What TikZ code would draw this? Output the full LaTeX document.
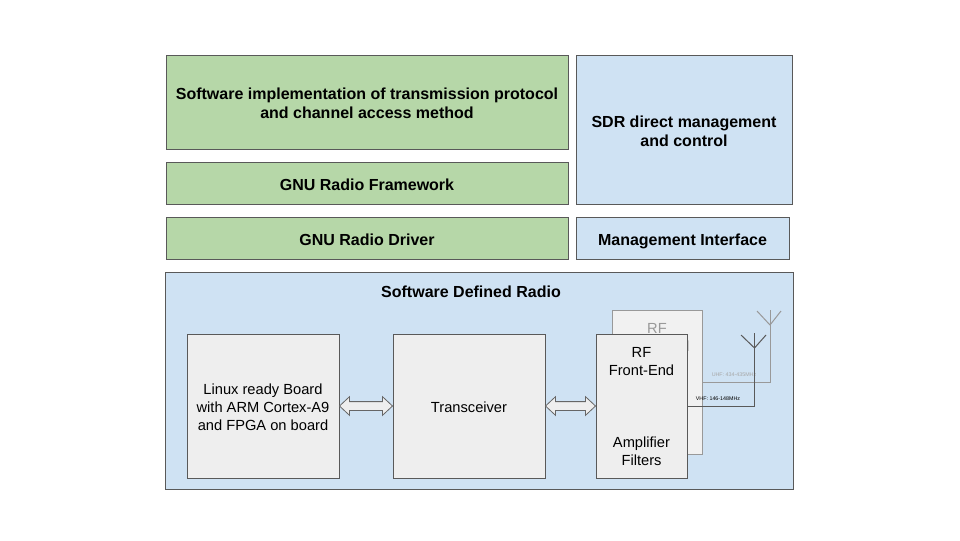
\documentclass[tikz,border=0pt]{standalone}
\usepackage{fontspec}
\setmainfont{Liberation Sans}
\usetikzlibrary{calc}
\definecolor{swgreen}{HTML}{B6D7A8}
\definecolor{mgmtblue}{HTML}{CFE2F3}
\definecolor{hwgray}{HTML}{EEEEEE}
\definecolor{edgegray}{HTML}{595959}
\newcommand{\swgap}{\rule{0pt}{13.5pt}}
\newcommand{\hwgap}{\rule{0pt}{12.5pt}}

\begin{document}
\begin{tikzpicture}[x=.75pt, y=-.75pt, line width=.75pt]
    \tikzstyle{layer}=[rectangle, draw=edgegray, align=center, inner sep=0pt, execute at begin node={\rule{0pt}{12.5pt}}, execute at end node={\rule[-3pt]{0pt}{3pt}}, font=\fontsize{12pt}{14.25pt}\selectfont\bfseries]
    \tikzstyle{sw}=[layer, fill=swgreen]
    \tikzstyle{mgmt}=[layer, fill=mgmtblue]
    \tikzstyle{hw}=[rectangle, draw=edgegray, fill=hwgray, align=center, inner sep=0pt, execute at begin node={\rule{0pt}{11.9pt}}, execute at end node={\rule[-2.5pt]{0pt}{2.5pt}}, font=\fontsize{11pt}{13.5pt}\selectfont]
    \tikzstyle{hwback}=[rectangle, draw=black!40, fill=hwgray!80!white, inner sep=0pt]
    \tikzstyle{txt}=[inner sep=0pt, align=center, font=\fontsize{11pt}{13.5pt}\selectfont]
    \tikzstyle{freq}=[inner sep=0pt, font=\fontsize{4pt}{5pt}\selectfont]
    \tikzstyle{bus}=[draw=black!60, line width=.6pt, fill=hwgray, to path={let \p1=(\tikztostart.east), \p2=(\tikztotarget.west) in
      (\p1) -- ++(7.5pt,7pt) -- ++(0,-3.7pt) -- (\x2-7.5pt,\y1+3.3pt) -- ++(0,3.7pt) -- (\p2)
      -- ++(-7.5pt,-7pt) -- ++(0,3.7pt) -- (\x1+7.5pt,\y1-3.3pt) -- ++(0,-3.7pt) -- cycle}]
    \tikzstyle{feed}=[draw=edgegray, line width=.75pt]
    \tikzstyle{feedback}=[draw=black!40, line width=.75pt]
    \useasboundingbox (0,0) rectangle (960,540);

    % software stack
    \node[sw, minimum width=301.5pt, minimum height=70.5pt] (protocol) at (367,102) {\swgap Software implementation of transmission protocol\\and channel access method};
    \node[sw, minimum width=301.5pt, minimum height=31.5pt] (framework) at (367,183.75) {GNU Radio Framework};
    \node[sw, minimum width=301.5pt, minimum height=31.5pt] (driver) at (367,238.75) {GNU Radio Driver};
    \node[mgmt, minimum width=162pt, minimum height=112pt] (control) at (684,130) {\swgap SDR direct management\\and control};
    \node[mgmt, minimum width=159.75pt, minimum height=31.5pt] (mgmtif) at (682.5,238.75) {Management Interface};

    % radio
    \node[rectangle, draw=edgegray, fill=mgmtblue, minimum width=471pt, minimum height=163pt] (sdr) at (479,381.2) {};
    \node[inner sep=0pt, font=\fontsize{12pt}{14.6pt}\selectfont\bfseries] (sdrtitle) at (471,292) {Software Defined Radio};
    \node[hw, minimum width=114pt, minimum height=108pt] (board) at (263,406) {\hwgap Linux ready Board\\with ARM Cortex-A9\\and FPGA on board};
    \node[hw, minimum width=114pt, minimum height=108pt] (trans) at (469,406) {Transceiver};

    % second front end, behind
    \node[hwback, minimum width=67.5pt, minimum height=108pt] (rfback) at (657,382.5) {};
    \node[txt, text=black!40] (rfbacktxt) at (657,338) {RF\\Front-End};

    \coordinate (uhfstem) at (770,382.5);
    \coordinate (uhftop) at (770,310);
    \coordinate (uhfjoin) at (770,325);
    \coordinate (uhfl) at (757,311);
    \coordinate (uhfr) at (781,311);
    \draw[feedback] (rfback.east |- uhfstem) -- (uhfstem) -- (uhftop);
    \draw[feedback] (uhfl) -- (uhfjoin) -- (uhfr);
    \node[freq, text=black!35] (uhflabel) at (734,375) {UHF: 434-435MHz};

    % front end
    \node[rectangle, draw=edgegray, fill=hwgray, minimum width=68.25pt, minimum height=108pt] (rf) at (641.5,406) {};
    \node[txt] (rftxt) at (641.5,361.5) {RF\\Front-End};
    \node[txt] (amptxt) at (641.5,451.5) {Amplifier\\Filters};

    \coordinate (vhfstem) at (754.5,406);
    \coordinate (vhftop) at (754.5,333);
    \coordinate (vhfjoin) at (754.5,348);
    \coordinate (vhfl) at (741,335);
    \coordinate (vhfr) at (766,335);
    \draw[feed] (rf.east |- vhfstem) -- (vhfstem) -- (vhftop);
    \draw[feed] (vhfl) -- (vhfjoin) -- (vhfr);
    \node[freq] (vhflabel) at (718,399) {VHF: 146-148MHz};

    \draw[bus] (board) to (trans);
    \draw[bus] (trans) to (rf);
\end{tikzpicture}
\end{document}
